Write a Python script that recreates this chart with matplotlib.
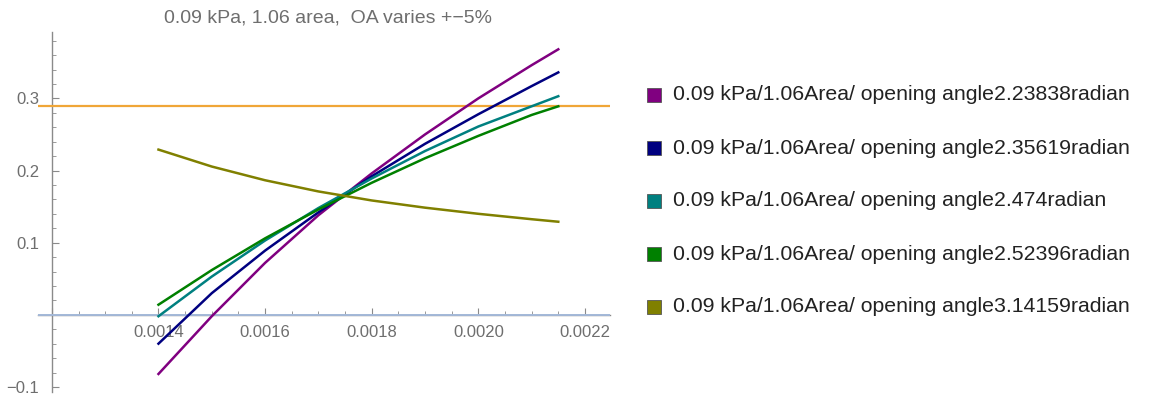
import numpy as np
import matplotlib.pyplot as plt
from matplotlib.patches import Rectangle

plt.rcParams['font.family'] = ['Liberation Sans', 'DejaVu Sans']

# strain values on the x axis
x = [0.0014, 0.0015, 0.0016, 0.0017, 0.0018, 0.0019, 0.0020, 0.0021, 0.00215]

oa_2_23838 = [-0.082, -0.002, 0.072, 0.138, 0.196, 0.250, 0.300, 0.346, 0.368]
oa_2_35619 = [-0.040, 0.030, 0.089, 0.142, 0.192, 0.237, 0.278, 0.317, 0.336]
oa_2_474 = [-0.002, 0.053, 0.103, 0.148, 0.189, 0.227, 0.261, 0.289, 0.303]
oa_2_52396 = [0.014, 0.062, 0.106, 0.146, 0.183, 0.217, 0.248, 0.277, 0.289]
oa_3_14159 = [0.229, 0.2055, 0.1865, 0.171, 0.1585, 0.1485, 0.140, 0.1325, 0.129]

target_level = 0.289

angles = ['2.23838', '2.35619', '2.474', '2.52396', '3.14159']
series = [oa_2_23838, oa_2_35619, oa_2_474, oa_2_52396, oa_3_14159]
colors = ['#800080', '#000080', '#008080', '#008000', '#808000']

W, H = 1157, 394
fig = plt.figure(figsize=(W / 100, H / 100), dpi=100)
ax = fig.add_axes([38 / W, 2 / H, 572 / W, 360 / H])

ax.set_xlim(0.001174, 0.002247)
ax.set_ylim(-0.107, 0.392)

ax.axhline(0, color='#a3b8d8', lw=1.4, zorder=3)
ax.axhline(target_level, color='#f0a637', lw=1.6, zorder=3)
for ys, c in zip(series, colors):
    ax.plot(x, ys, color=c, lw=1.8, zorder=4)

# axes cross at (0.0012, 0) like a classic function plot
for s in ['top', 'right']:
    ax.spines[s].set_visible(False)
ax.spines['left'].set_position(('data', 0.0012))
ax.spines['bottom'].set_position(('data', 0))
for s in ['left', 'bottom']:
    ax.spines[s].set_color('#8a8a8a')
    ax.spines[s].set_linewidth(1.0)
    ax.spines[s].set_zorder(2)

xt = [0.0012, 0.0014, 0.0016, 0.0018, 0.0020, 0.0022]
ax.set_xticks(xt)
ax.set_xticklabels([''] + ['%.4f' % v for v in xt[1:]])
ax.set_xticks(np.arange(0.00125, 0.00225, 0.00005), minor=True)
yt = [-0.1, 0.1, 0.2, 0.3]
ax.set_yticks(yt)
ax.set_yticklabels(['\u22120.1', '0.1', '0.2', '0.3'])
ax.set_yticks([v / 100 for v in range(-10, 40, 2)], minor=True)

ax.tick_params(which='both', direction='in', color='#8a8a8a', labelcolor='#6e6e6e', labelsize=12)
ax.tick_params(which='major', length=5)
ax.tick_params(which='minor', length=3)
ax.tick_params(axis='x', which='major', pad=7)
ax.tick_params(axis='y', which='major', pad=9)
ax.set_axisbelow(True)
ax.patch.set_visible(False)

fig.text(328 / W, 1 - 18 / H, '0.09 kPa, 1.06 area,  OA varies +\u22125%',
         ha='center', va='center', fontsize=14, color='#6e6e6e')

# legend: coloured squares with labels
for i, (a, c) in enumerate(zip(angles, colors)):
    yc = 95 + 53 * i
    fig.add_artist(Rectangle(((647) / W, 1 - (yc + 7) / H), 14 / W, 14 / H,
                             transform=fig.transFigure, facecolor=c,
                             edgecolor='#555555', lw=0.6))
    fig.text(673 / W, 1 - yc / H, '0.09 kPa/1.06Area/ opening angle' + a + 'radian',
             ha='left', va='center', fontsize=15.3, color='#222222')

fig.savefig('out.png', dpi=100)
